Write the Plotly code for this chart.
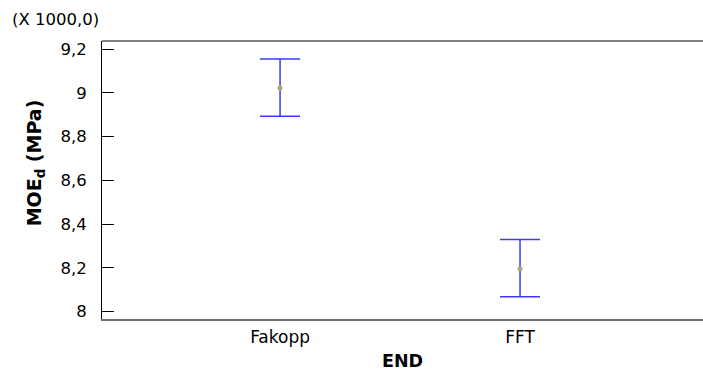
import plotly.graph_objects as go

categories = ["Fakopp", "FFT"]
means = [9.022, 8.196]
upper = [9.155, 8.330]
lower = [8.893, 8.068]
ytick_vals = [8.0, 8.2, 8.4, 8.6, 8.8, 9.0, 9.2]

err_plus = [u - m for u, m in zip(upper, means)]
err_minus = [m - l for m, l in zip(means, lower)]

FONT = "DejaVu Sans, Verdana, sans-serif"

fig = go.Figure()
fig.add_trace(go.Scatter(
    x=categories, y=means, mode="markers",
    marker=dict(size=5, color="#a8a878"),
    error_y=dict(type="data", symmetric=False, array=err_plus, arrayminus=err_minus,
                 color="#3b3bff", thickness=1.5, width=20),
    showlegend=False,
))

fig.update_layout(
    width=703, height=371,
    margin=dict(l=102, r=0, t=41, b=52),
    paper_bgcolor="white", plot_bgcolor="white",
    separators=", ",
    font=dict(family=FONT, size=16.5, color="black"),
    xaxis=dict(
        type="category", range=[-0.742, 1.7625], automargin=False,
        showgrid=False, zeroline=False, showline=True, linecolor="#707070", linewidth=1.5,
        ticks="", ticklabelstandoff=2, tickfont=dict(size=17),
        title=dict(text="<b>END</b>", font=dict(size=17.5), standoff=13),
    ),
    yaxis=dict(
        range=[7.966, 9.2375], automargin=False,
        tickvals=ytick_vals, tickformat="~g",
        showgrid=False, zeroline=False, showline=True, linecolor="black", linewidth=1,
        ticks="inside", ticklen=12, tickcolor="black", tickwidth=1,
        ticklabelstandoff=11,
    ),
    shapes=[dict(type="line", xref="paper", yref="paper", x0=0, x1=1, y0=1, y1=1,
                 line=dict(color="#808080", width=2))],
    annotations=[
        dict(text="(X 1000,0)", xref="paper", yref="paper", x=-0.153, y=1,
             xanchor="left", yanchor="middle", yshift=22, showarrow=False,
             font=dict(size=16.5)),
        dict(text="<b>MOE<sub>d</sub> (MPa)</b>", xref="paper", yref="paper",
             x=-0.111, y=0.561, xanchor="center", yanchor="middle", textangle=-90,
             showarrow=False, font=dict(size=19)),
    ],
)

fig.write_html("out.html", config={"displayModeBar": False},
               post_script="document.body.style.margin='0';")
